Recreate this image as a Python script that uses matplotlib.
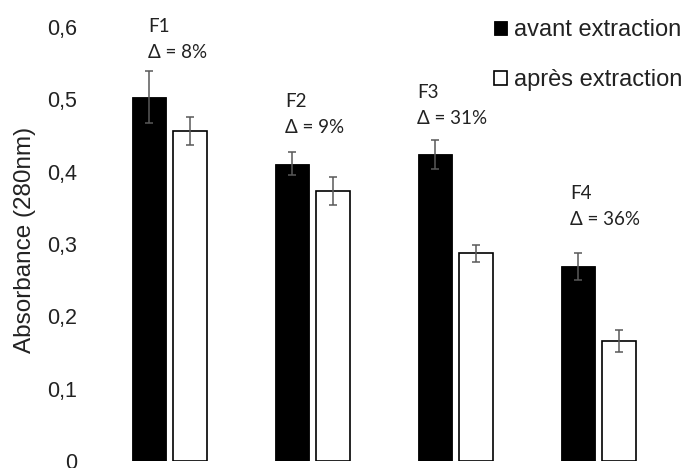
import numpy as np
import matplotlib
matplotlib.use("Agg")
import matplotlib.pyplot as plt

# data
fractions = ["F1", "F2", "F3", "F4"]
deltas = ["8%", "9%", "31%", "36%"]
avant = [0.503, 0.411, 0.424, 0.269]
avant_err = [0.036, 0.016, 0.020, 0.019]
apres = [0.456, 0.373, 0.287, 0.166]
apres_err = [0.019, 0.019, 0.012, 0.015]
yticks = [0, 0.1, 0.2, 0.3, 0.4, 0.5, 0.6]
ytick_labels = ["0", "0,1", "0,2", "0,3", "0,4", "0,5", "0,6"]

# where the hand-placed text boxes sit (data coords)
label_x = [-0.15, 0.81, 1.73, 2.80]
label_y = [0.601, 0.497, 0.510, 0.370]

plt.rcParams['font.family'] = ['Liberation Sans', 'DejaVu Sans']

fig = plt.figure(figsize=(6.91, 4.68), dpi=100)
ax = fig.add_axes([98 / 691, 7 / 468, 572 / 691, 434 / 468])

x = np.arange(len(fractions))
w = 0.238
off = 0.144
err_kw = dict(ecolor="#595959", elinewidth=1.1, capsize=2.6, capthick=1.1)

ax.bar(x - off, avant, w, yerr=avant_err, color="black", edgecolor="black",
       linewidth=0.6, error_kw=err_kw, label="avant extraction")
ax.bar(x + off, apres, w, yerr=apres_err, color="white", edgecolor="black",
       linewidth=1.2, error_kw=err_kw, label="après extraction")

for i in range(len(fractions)):
    ax.text(label_x[i], label_y[i], fractions[i], fontsize=13.5, family=["Lato", "DejaVu Sans"],
            va="center", ha="left", color="#222222")
    ax.text(label_x[i], label_y[i] - 0.036, "\u0394 = " + deltas[i], fontsize=13.5,
            family=["Lato", "DejaVu Sans"], va="center", ha="left", color="#222222")

ax.set_xlim(-0.5, 3.5)
ax.set_ylim(0, 0.6)
ax.set_yticks(yticks)
ax.set_yticklabels(ytick_labels)
ax.set_xticks([])
ax.tick_params(axis="y", length=0, pad=15, labelsize=15.5, labelcolor="#222222")
for s in ax.spines.values():
    s.set_visible(False)

ax.set_ylabel("Absorbance (280nm)", fontsize=17.5, color="#222222")
ax.yaxis.set_label_coords(-0.109, 0.509)

leg = ax.legend(loc="upper left", bbox_to_anchor=(494 / 691, 1 - 19 / 468),
                bbox_transform=fig.transFigure, frameon=False, fontsize=17,
                handlelength=0.55, handleheight=0.55, handletextpad=0.3,
                labelspacing=1.2, borderpad=0, borderaxespad=0)
for t in leg.get_texts():
    t.set_color("#222222")

fig.savefig("out.png", dpi=100)
